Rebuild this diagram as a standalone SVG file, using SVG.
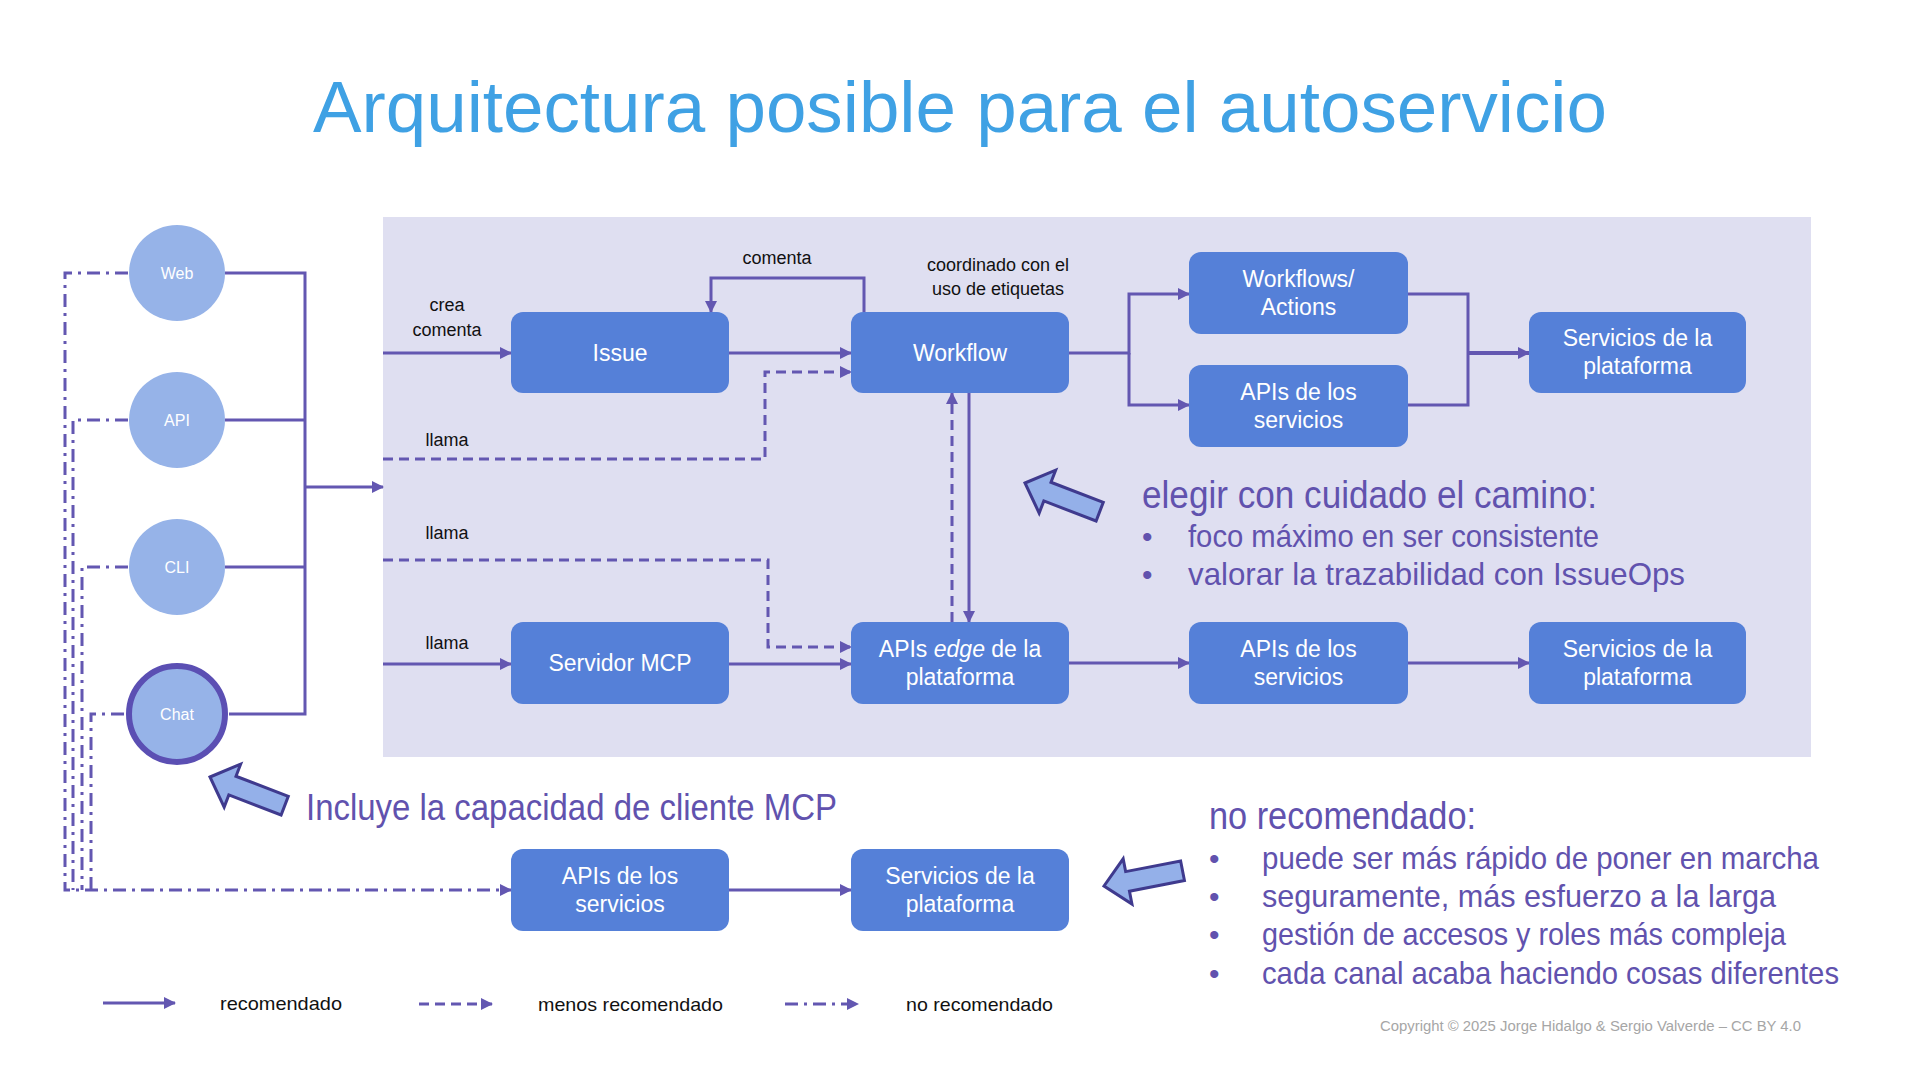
<svg xmlns="http://www.w3.org/2000/svg" width="1920" height="1080" viewBox="0 0 1920 1080">
<defs>
<style>
.ln{fill:none;stroke:#6357B1;stroke-width:3}
.ds{stroke-dasharray:10 6}
.dd{stroke-dasharray:13 6 3 6}
.box{fill:#5580D8}
.bt{font-family:"Liberation Sans",Arial,sans-serif;font-size:23px;fill:#FFFFFF;text-anchor:middle}
.ct{font-family:"Liberation Sans",Arial,sans-serif;font-size:16px;fill:#FFFFFF;text-anchor:middle}
.circ{fill:#96B3E8}
.lb{font-family:"Liberation Sans",Arial,sans-serif;font-size:18px;fill:#111111;text-anchor:middle}
.lg{font-family:"Liberation Sans",Arial,sans-serif;font-size:19px;fill:#111111}
.hw{font-family:"Liberation Sans",Arial,sans-serif;fill:#6152AE}
.blk{fill:#94B0E9;stroke:#3F3A8E;stroke-width:3;stroke-linejoin:miter}
</style>
<marker id="ah" viewBox="0 0 12 12" refX="11" refY="6" markerWidth="12" markerHeight="12" markerUnits="userSpaceOnUse" orient="auto">
<path d="M0,0 L12,6 L0,12 z" fill="#6357B1"/>
</marker>
<path id="blockArrow" d="M0,0 L24,-23 L24,-10 L80,-10 L80,10 L24,10 L24,23 Z"/>
</defs>

<rect width="1920" height="1080" fill="#FFFFFF"/>

<text x="960" y="132" font-family="'Liberation Sans',Arial,sans-serif" font-size="72" fill="#3FA1E4" text-anchor="middle" textLength="1294" lengthAdjust="spacingAndGlyphs">Arquitectura posible para el autoservicio</text>

<rect id="panel" x="383" y="217" width="1428" height="540" fill="#DFDFF1"/>

<g id="connectors">
  <path class="ln" d="M225,273 H305 V714 H229"/>
  <path class="ln" d="M225,420 H305"/>
  <path class="ln" d="M225,567 H305"/>
  <path class="ln" d="M305,487 H383" marker-end="url(#ah)"/>
  <path class="ln dd" d="M128,273 H65 V890 H511" marker-end="url(#ah)"/>
  <path class="ln dd" d="M128,420 H73 V890"/>
  <path class="ln dd" d="M128,567 H82 V890"/>
  <path class="ln dd" d="M124,714 H91 V890"/>
  <path class="ln" d="M383,353 H511" marker-end="url(#ah)"/>
  <path class="ln" d="M729,353 H851" marker-end="url(#ah)"/>
  <path class="ln" d="M864,312 V278 H711 V312" marker-end="url(#ah)"/>
  <path class="ln ds" d="M383,459 H765 V372 H851" marker-end="url(#ah)"/>
  <path class="ln ds" d="M383,560 H768 V647 H851" marker-end="url(#ah)"/>
  <path class="ln" d="M383,664 H511" marker-end="url(#ah)"/>
  <path class="ln" d="M729,664 H851" marker-end="url(#ah)"/>
  <path class="ln" d="M969,393 V622" marker-end="url(#ah)"/>
  <path class="ln ds" d="M952,622 V393" marker-end="url(#ah)"/>
  <path class="ln" d="M1069,353 H1129 V294 H1189" marker-end="url(#ah)"/>
  <path class="ln" d="M1129,353 V405 H1189" marker-end="url(#ah)"/>
  <path class="ln" d="M1408,294 H1468 V405 H1408"/>
  <path class="ln" style="stroke-width:4" d="M1468,353 H1529" marker-end="url(#ah)"/>
  <path class="ln" d="M1069,663 H1189" marker-end="url(#ah)"/>
  <path class="ln" d="M1408,663 H1529" marker-end="url(#ah)"/>
  <path class="ln" d="M729,890 H851" marker-end="url(#ah)"/>
  <text class="lb" x="447" y="311">crea</text>
  <text class="lb" x="447" y="336">comenta</text>
  <text class="lb" x="777" y="264">comenta</text>
  <text class="lb" x="998" y="271">coordinado con el</text>
  <text class="lb" x="998" y="295">uso de etiquetas</text>
  <text class="lb" x="447" y="446">llama</text>
  <text class="lb" x="447" y="539">llama</text>
  <text class="lb" x="447" y="649">llama</text>
</g>

<g id="node-web"><circle class="circ" cx="177" cy="273" r="48"/><text class="ct" x="177" y="279">Web</text></g>
<g id="node-api"><circle class="circ" cx="177" cy="420" r="48"/><text class="ct" x="177" y="426">API</text></g>
<g id="node-cli"><circle class="circ" cx="177" cy="567" r="48"/><text class="ct" x="177" y="573">CLI</text></g>
<g id="node-chat"><circle class="circ" cx="177" cy="714" r="48" stroke="#5B4FB3" stroke-width="6"/><text class="ct" x="177" y="720">Chat</text></g>

<g id="node-issue"><rect class="box" x="511" y="312" width="218" height="81" rx="12"/><text class="bt" x="620" y="361">Issue</text></g>
<g id="node-workflow"><rect class="box" x="851" y="312" width="218" height="81" rx="12"/><text class="bt" x="960" y="361">Workflow</text></g>
<g id="node-workflows-actions"><rect class="box" x="1189" y="252" width="219" height="82" rx="12"/><text class="bt" x="1298.5" y="287">Workflows/</text><text class="bt" x="1298.5" y="315">Actions</text></g>
<g id="node-apis-servicios-top"><rect class="box" x="1189" y="365" width="219" height="82" rx="12"/><text class="bt" x="1298.5" y="400">APIs de los</text><text class="bt" x="1298.5" y="428">servicios</text></g>
<g id="node-servicios-top"><rect class="box" x="1529" y="312" width="217" height="81" rx="12"/><text class="bt" x="1637.5" y="346">Servicios de la</text><text class="bt" x="1637.5" y="374">plataforma</text></g>
<g id="node-servidor-mcp"><rect class="box" x="511" y="622" width="218" height="82" rx="12"/><text class="bt" x="620" y="671">Servidor MCP</text></g>
<g id="node-apis-edge"><rect class="box" x="851" y="622" width="218" height="82" rx="12"/><text class="bt" x="960" y="657">APIs <tspan font-style="italic">edge</tspan> de la</text><text class="bt" x="960" y="685">plataforma</text></g>
<g id="node-apis-servicios-mid"><rect class="box" x="1189" y="622" width="219" height="82" rx="12"/><text class="bt" x="1298.5" y="657">APIs de los</text><text class="bt" x="1298.5" y="685">servicios</text></g>
<g id="node-servicios-mid"><rect class="box" x="1529" y="622" width="217" height="82" rx="12"/><text class="bt" x="1637.5" y="657">Servicios de la</text><text class="bt" x="1637.5" y="685">plataforma</text></g>
<g id="node-apis-servicios-bottom"><rect class="box" x="511" y="849" width="218" height="82" rx="12"/><text class="bt" x="620" y="884">APIs de los</text><text class="bt" x="620" y="912">servicios</text></g>
<g id="node-servicios-bottom"><rect class="box" x="851" y="849" width="218" height="82" rx="12"/><text class="bt" x="960" y="884">Servicios de la</text><text class="bt" x="960" y="912">plataforma</text></g>

<g id="callouts">
  <use href="#blockArrow" class="blk" transform="translate(1025,483) rotate(21)"/>
  <use href="#blockArrow" class="blk" transform="translate(210,777) rotate(21)"/>
  <use href="#blockArrow" class="blk" transform="translate(1104,886) rotate(-11)"/>
  <text class="hw" x="1142" y="508" font-size="39" textLength="455" lengthAdjust="spacingAndGlyphs">elegir con cuidado el camino:</text>
  <text class="hw" x="1142" y="547" font-size="30">•</text>
  <text class="hw" x="1188" y="547" font-size="32" textLength="411" lengthAdjust="spacingAndGlyphs">foco máximo en ser consistente</text>
  <text class="hw" x="1142" y="585" font-size="30">•</text>
  <text class="hw" x="1188" y="585" font-size="32" textLength="497" lengthAdjust="spacingAndGlyphs">valorar la trazabilidad con IssueOps</text>
  <text class="hw" x="306" y="820" font-size="36" textLength="531" lengthAdjust="spacingAndGlyphs">Incluye la capacidad de cliente MCP</text>
  <text class="hw" x="1209" y="829" font-size="39" textLength="267" lengthAdjust="spacingAndGlyphs">no recomendado:</text>
  <text class="hw" x="1209" y="869" font-size="30">•</text>
  <text class="hw" x="1262" y="869" font-size="32" textLength="557" lengthAdjust="spacingAndGlyphs">puede ser más rápido de poner en marcha</text>
  <text class="hw" x="1209" y="907" font-size="30">•</text>
  <text class="hw" x="1262" y="907" font-size="32" textLength="514" lengthAdjust="spacingAndGlyphs">seguramente, más esfuerzo a la larga</text>
  <text class="hw" x="1209" y="945" font-size="30">•</text>
  <text class="hw" x="1262" y="945" font-size="32" textLength="524" lengthAdjust="spacingAndGlyphs">gestión de accesos y roles más compleja</text>
  <text class="hw" x="1209" y="984" font-size="30">•</text>
  <text class="hw" x="1262" y="984" font-size="32" textLength="577" lengthAdjust="spacingAndGlyphs">cada canal acaba haciendo cosas diferentes</text>
</g>

<g id="legend">
  <path class="ln" d="M103,1003 H175" marker-end="url(#ah)"/>
  <text class="lg" x="220" y="1010" textLength="122" lengthAdjust="spacingAndGlyphs">recomendado</text>
  <path class="ln ds" d="M419,1004 H492" marker-end="url(#ah)"/>
  <text class="lg" x="538" y="1011" textLength="185" lengthAdjust="spacingAndGlyphs">menos recomendado</text>
  <path class="ln dd" d="M785,1004 H858" marker-end="url(#ah)"/>
  <text class="lg" x="906" y="1011" textLength="147" lengthAdjust="spacingAndGlyphs">no recomendado</text>
</g>

<text x="1380" y="1031" font-family="'Liberation Sans',Arial,sans-serif" font-size="14" fill="#A6A6A6" textLength="421" lengthAdjust="spacingAndGlyphs">Copyright © 2025 Jorge Hidalgo &amp; Sergio Valverde – CC BY 4.0</text>
</svg>
